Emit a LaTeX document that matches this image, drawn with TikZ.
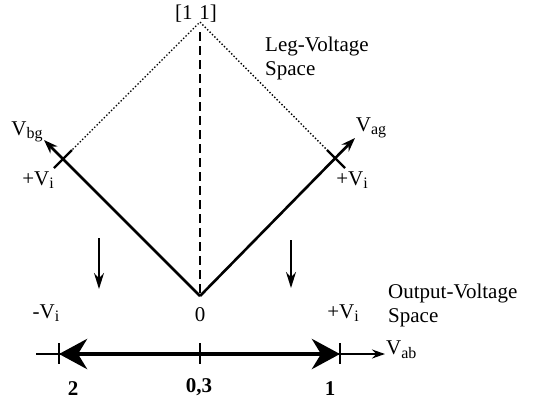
\documentclass[tikz,border=0pt]{standalone}
\usepackage{fontspec}
\setmainfont{Liberation Serif}
\usetikzlibrary{arrows.meta,calc}
\newcommand\lowsub[1]{\raisebox{-0.38ex}{\fontsize{16}{16}\selectfont #1}}
\begin{document}
\begin{tikzpicture}[x=1pt,y=-1pt,
  lbl/.style={inner sep=0pt,font=\fontsize{21}{24}\selectfont},
  blbl/.style={inner sep=0pt,font=\fontsize{21}{24}\selectfont\bfseries},
  solidv/.style={line width=2.6pt},
  tickm/.style={line width=2.4pt},
  smallarrow/.style={-{Stealth[length=14pt,width=10pt]}},
  bigarrow/.style={line width=4.8pt,-{Stealth[length=28pt,width=30pt,inset=9pt]}}]
\useasboundingbox (0,0) rectangle (535,402);
% key points
\coordinate (O) at (200,296);
\coordinate (apex) at (200,22);
\coordinate (tickL) at (63,159);
\coordinate (tickR) at (336,159);
\coordinate (tipL) at (44,140);
\coordinate (tipR) at (355,138);
\coordinate (dashtop) at (200,32);
% leg space
\draw[line width=1.4pt,dotted] (tickL) -- (apex) -- (tickR);
\draw[line width=2pt,dash pattern=on 9pt off 5pt] (dashtop) -- (O);
\draw[solidv,smallarrow] (O) -- (tipL);
\draw[solidv,smallarrow] (O) -- (tipR);
\draw[tickm] ($(tickL)+(-9,9)$) -- ($(tickL)+(9,-9)$);
\draw[tickm] ($(tickR)+(-9,-9)$) -- ($(tickR)+(9,9)$);
% labels
\node[lbl] (n11) at (196,14) {[1\,\,1]};
\node[lbl,align=left,anchor=north west] (legsp) at (265,37) {Leg-Voltage\\Space};
\node[lbl] (vbg) at (27,132) {V\lowsub{bg}};
\node[lbl] (vag) at (371,128) {V\lowsub{ag}};
\node[lbl] (pviL) at (38,180) {+V\lowsub{i}};
\node[lbl] (pviR) at (352,180) {+V\lowsub{i}};
% down arrows
\coordinate (dLa) at (99,238); \coordinate (dLb) at (99,289);
\coordinate (dRa) at (291,240); \coordinate (dRb) at (291,288);
\draw[line width=1.6pt,-{Stealth[length=16pt,width=10pt]}] (dLa) -- (dLb);
\draw[line width=1.6pt,-{Stealth[length=16pt,width=10pt]}] (dRa) -- (dRb);
% output space
\node[lbl,align=left,anchor=north west] (outsp) at (388,284) {Output-Voltage\\Space};
\node[lbl] (mvi) at (46,313) {-V\lowsub{i}};
\node[lbl] (zero) at (200,315) {0};
\node[lbl] (pvi) at (343,313) {+V\lowsub{i}};
\coordinate (axL) at (36,354);
\coordinate (axR) at (385,354);
\coordinate (t2) at (59,354);
\coordinate (t0) at (200,354);
\coordinate (t1) at (340,354);
\draw[line width=1.6pt,-{Stealth[length=13pt,width=9pt]}] (axL) -- (axR);
\node[lbl,anchor=west] (vab) at (386,350) {V\lowsub{ab}};
\foreach \t in {t2,t0,t1}{\draw[line width=2pt] ($(\t)+(0,-11)$) -- ($(\t)+(0,10)$);}
\draw[bigarrow] (t0) -- (t2);
\draw[bigarrow] (t0) -- (t1);
\node[blbl] (l2) at (73,389) {2};
\node[blbl] (l03) at (199,387) {0,3};
\node[blbl] (l1) at (330,389) {1};
\end{tikzpicture}
\end{document}
